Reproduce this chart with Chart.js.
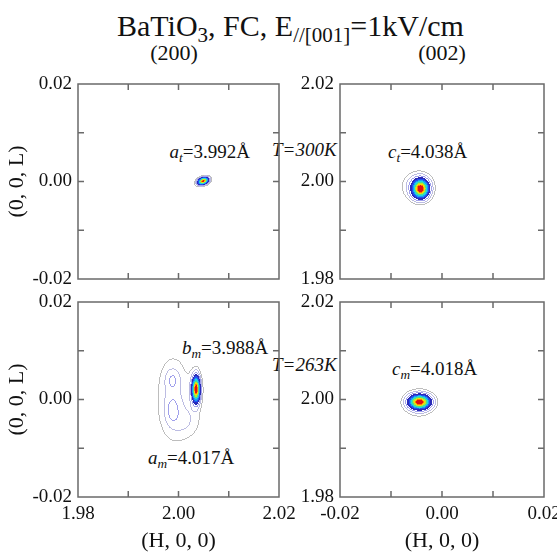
<!DOCTYPE html>
<html>
<head>
<meta charset="utf-8">
<script src="https://cdn.jsdelivr.net/npm/chart.js@4.4.0/dist/chart.umd.min.js"></script>
<style>
  body { margin: 0; background: #fff; width: 557px; height: 552px; overflow: hidden; position: relative;
         font-family: 'Liberation Serif', 'Times New Roman', serif; color: #111; }
  canvas { position: absolute; }
  .t { position: absolute; white-space: nowrap; line-height: 1; }
  .lbl { font-size: 19px; }
  sub { font-size: 70%; vertical-align: baseline; position: relative; top: 0.3em; }
</style>
</head>
<body>
<div class="t" style="left:117px;top:11px;font-size:30px">BaTiO<sub>3</sub>, FC, E<sub>//[001]</sub>=1kV/cm</div>
<div class="t" style="left:134px;top:42px;width:80px;text-align:center;font-size:22px">(200)</div>
<div class="t" style="left:402px;top:42px;width:80px;text-align:center;font-size:22px">(002)</div>

<div class="t lbl" style="right:307px;top:142px"><i>a<sub>t</sub></i>=3.992Å</div>
<div class="t lbl" style="left:272px;top:140px"><i>T=300K</i></div>
<div class="t lbl" style="left:388px;top:142px"><i>c<sub>t</sub></i>=4.038Å</div>
<div class="t lbl" style="left:182px;top:338px"><i>b<sub>m</sub></i>=3.988Å</div>
<div class="t lbl" style="left:272px;top:355px"><i>T=263K</i></div>
<div class="t lbl" style="left:392px;top:359px"><i>c<sub>m</sub></i>=4.018Å</div>
<div class="t lbl" style="left:148px;top:448px"><i>a<sub>m</sub></i>=4.017Å</div>

<script>
// axis ranges
const range200H = [1.98, 2.02];
const range200L = [-0.02, 0.02];
const range002H = [-0.02, 0.02];
const range002L = [1.98, 2.02];
const tickStep = 0.01;

// gaussian peaks: [H, L, sigmaH, sigmaL, relative height, tilt deg]
const peaks200at300K = [
  [2.0049, 0.0001, 0.0007, 0.00045, 1.0, 20]
];
const peaks002at300K = [
  [-0.0042, 1.9985, 0.0010, 0.0012, 1.0, 0],
  [-0.0048, 1.9990, 0.0017, 0.0017, 0.12, 0]
];
const peaks200at263K = [
  [2.0035, 0.0021, 0.0005, 0.0016, 1.0, 0],    // b_m
  [2.0034, 0.0018, 0.0008, 0.0025, 0.08, 0],
  [1.9988, 0.0040, 0.0009, 0.0014, 0.09, 0],   // a_m
  [1.9988, -0.0022, 0.0009, 0.0018, 0.10, 0],
  [1.9990, 0.0003, 0.0022, 0.0056, 0.07, 0],
  [2.0014, -0.0045, 0.0020, 0.0022, 0.05, 0]
];
const peaks002at263K = [
  [-0.0044, 1.9995, 0.0013, 0.0009, 1.0, 0],
  [-0.0045, 1.9993, 0.0017, 0.0016, 0.1, 0]
];

// contour levels: first three drawn as lines, the rest filled
const LEVELS = [0.025, 0.06, 0.12, 0.2, 0.3, 0.4, 0.5, 0.6, 0.7, 0.8, 0.88, 0.95];
const NLINE = 3;
const lineColors = ['#bdbdbd', '#bcbce2', '#a0a0ec'];
const fillColors = ['#2a2ab8', '#2050f0', '#1a9cf5', '#22dada', '#4ee08a', '#b6e634', '#ffd800', '#ff7a00', '#e01010'];

const SERIF = "'Liberation Serif', 'Times New Roman', serif";

function hex(c) {
  return [parseInt(c.slice(1, 3), 16), parseInt(c.slice(3, 5), 16), parseInt(c.slice(5, 7), 16)];
}

// draws the intensity map as contour bands, through the chart scales
function contourPlugin(peaks) {
  return {
    id: 'contour',
    beforeDatasetsDraw(chart) {
      const a = chart.chartArea, xs = chart.scales.x, ys = chart.scales.y;
      const x0 = Math.round(a.left), y0 = Math.round(a.top);
      const w = Math.round(a.right) - x0, h = Math.round(a.bottom) - y0;
      const g = peaks.map(p => {
        const cx = xs.getPixelForValue(p[0]), cy = ys.getPixelForValue(p[1]);
        const r = p[5] * Math.PI / 180;
        return {
          cx, cy,
          sx: Math.abs(xs.getPixelForValue(p[0] + p[2]) - cx),
          sy: Math.abs(ys.getPixelForValue(p[1] + p[3]) - cy),
          a: p[4], c: Math.cos(r), s: Math.sin(r)
        };
      });
      const lev = new Int8Array(w * h);
      for (let j = 0; j < h; j++) {
        for (let i = 0; i < w; i++) {
          const px = x0 + i + 0.5, py = y0 + j + 0.5;
          let v = 0;
          for (const q of g) {
            const dx = px - q.cx, dy = py - q.cy;
            const u = (dx * q.c - dy * q.s) / q.sx, t = (dx * q.s + dy * q.c) / q.sy;
            v += q.a * Math.exp(-0.5 * (u * u + t * t));
          }
          let k = 0;
          while (k < LEVELS.length && v >= LEVELS[k]) k++;
          lev[j * w + i] = k;
        }
      }
      const off = document.createElement('canvas');
      off.width = w; off.height = h;
      const octx = off.getContext('2d');
      const img = octx.createImageData(w, h);
      const lc = lineColors.map(hex), fc = fillColors.map(hex);
      for (let j = 0; j < h; j++) {
        for (let i = 0; i < w; i++) {
          const k = lev[j * w + i];
          if (!k) continue;
          let col = null;
          if (k > NLINE) {
            col = fc[k - NLINE - 1];
          } else {
            const l = i > 0 ? lev[j * w + i - 1] : 0, r = i < w - 1 ? lev[j * w + i + 1] : 0;
            const u = j > 0 ? lev[(j - 1) * w + i] : 0, d = j < h - 1 ? lev[(j + 1) * w + i] : 0;
            if (Math.min(l, r, u, d) < k) col = lc[k - 1];
          }
          if (!col) continue;
          const o = (j * w + i) * 4;
          img.data[o] = col[0]; img.data[o + 1] = col[1]; img.data[o + 2] = col[2]; img.data[o + 3] = 255;
        }
      }
      octx.putImageData(img, 0, 0);
      chart.ctx.drawImage(off, x0, y0);
    }
  };
}

// inner tick values of a scale, every tickStep
function innerTicks(s) {
  const out = [];
  const n = Math.round((s.max - s.min) / tickStep);
  for (let k = 1; k < n; k++) out.push(s.min + k * tickStep);
  return out;
}

// box with inward ticks on all four sides
const framePlugin = {
  id: 'frame',
  afterDraw(chart) {
    const { ctx, chartArea: a } = chart;
    const x = chart.scales.x, y = chart.scales.y;
    ctx.save();
    ctx.lineWidth = 1.5;
    ctx.strokeStyle = '#6a6a6a';
    ctx.strokeRect(a.left, a.top, a.right - a.left, a.bottom - a.top);
    ctx.beginPath();
    innerTicks(x).forEach(v => {
      const px = x.getPixelForValue(v);
      ctx.moveTo(px, a.bottom); ctx.lineTo(px, a.bottom - 6);
      ctx.moveTo(px, a.top); ctx.lineTo(px, a.top + 6);
    });
    innerTicks(y).forEach(v => {
      const py = y.getPixelForValue(v);
      ctx.moveTo(a.left, py); ctx.lineTo(a.left + 6, py);
      ctx.moveTo(a.right, py); ctx.lineTo(a.right - 6, py);
    });
    ctx.stroke();
    ctx.restore();
  }
};

const tickLabel = v => {
  const n = Math.round(v * 100);
  return n % 2 === 0 ? (n / 100).toFixed(2) : '';
};

function panel(cfg) {
  const padTop = 14, padRight = 24;
  const cv = document.createElement('canvas');
  cv.width = cfg.yw + cfg.w + padRight;
  cv.height = padTop + cfg.h + cfg.xh;
  cv.style.left = (cfg.left - cfg.yw) + 'px';
  cv.style.top = (cfg.top - padTop) + 'px';
  document.body.appendChild(cv);

  new Chart(cv, {
    type: 'scatter',
    data: { datasets: [{ data: cfg.peaks.map(p => ({ x: p[0], y: p[1] })), pointRadius: 0 }] },
    options: {
      responsive: false,
      animation: false,
      events: [],
      layout: { padding: { top: padTop, right: padRight, left: 0, bottom: 0 } },
      plugins: { legend: { display: false }, tooltip: { enabled: false } },
      scales: {
        x: {
          type: 'linear', min: cfg.xr[0], max: cfg.xr[1],
          grid: { display: false, drawTicks: false }, border: { display: false },
          ticks: { display: cfg.xTitle, stepSize: tickStep, autoSkip: false, maxRotation: 0, padding: 6,
                   color: '#111', font: { family: SERIF, size: 19 }, callback: tickLabel },
          title: { display: cfg.xTitle, text: '(H, 0, 0)', color: '#111', padding: { top: 0, bottom: 0 },
                   font: { family: SERIF, size: 22, lineHeight: 1 } },
          afterFit: s => { s.height = cfg.xh; s.paddingLeft = 0; s.paddingRight = 0; }
        },
        y: {
          type: 'linear', min: cfg.yr[0], max: cfg.yr[1],
          grid: { display: false, drawTicks: false }, border: { display: false },
          ticks: { stepSize: tickStep, autoSkip: false, padding: 6,
                   color: '#111', font: { family: SERIF, size: 19 }, callback: tickLabel },
          title: { display: cfg.yTitle, text: '(0, 0, L)', color: '#111', padding: { top: 6, bottom: 0 },
                   font: { family: SERIF, size: 22, lineHeight: 1 } },
          afterFit: s => { s.width = cfg.yw; s.paddingTop = 0; s.paddingBottom = 0; }
        }
      }
    },
    plugins: [contourPlugin(cfg.peaks), framePlugin]
  });
}

panel({ left: 78, top: 84, w: 201, h: 195, yw: 78, xh: 10, xr: range200H, yr: range200L,
        peaks: peaks200at300K, xTitle: false, yTitle: true });
panel({ left: 340, top: 84, w: 204, h: 195, yw: 60, xh: 10, xr: range002H, yr: range002L,
        peaks: peaks002at300K, xTitle: false, yTitle: false });
panel({ left: 78, top: 302, w: 201, h: 195, yw: 78, xh: 55, xr: range200H, yr: range200L,
        peaks: peaks200at263K, xTitle: true, yTitle: true });
panel({ left: 340, top: 302, w: 204, h: 195, yw: 60, xh: 55, xr: range002H, yr: range002L,
        peaks: peaks002at263K, xTitle: true, yTitle: false });
</script>
</body>
</html>
